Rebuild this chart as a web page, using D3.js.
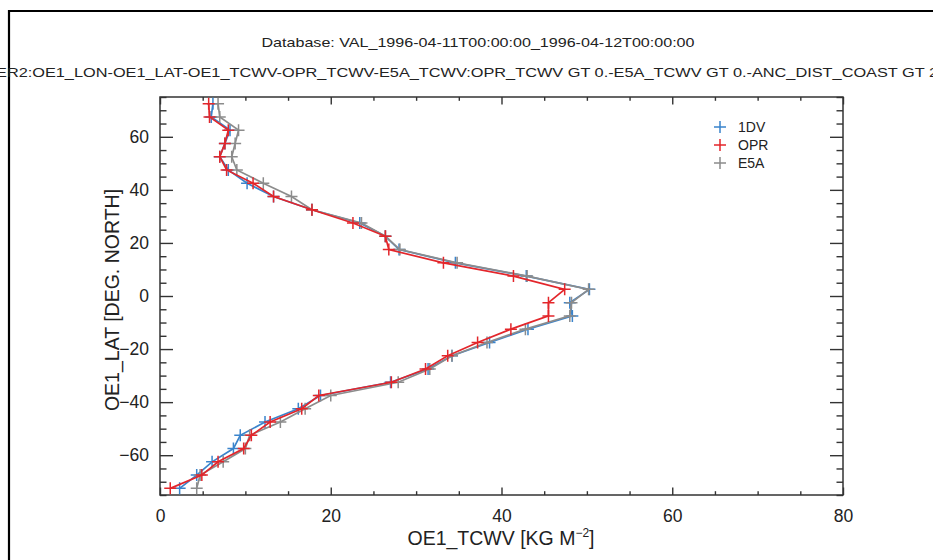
<!DOCTYPE html>
<html><head><meta charset="utf-8">
<script src="https://cdn.jsdelivr.net/npm/d3@7"></script>
<style>
body{margin:0;background:#fff;}
svg{display:block;font-family:"Liberation Sans",Arial,Helvetica,sans-serif;}
</style></head>
<body>
<svg id="c" width="933" height="560"></svg>
<script>
const title1 = "Database: VAL_1996-04-11T00:00:00_1996-04-12T00:00:00";
const title2 = "ER2:OE1_LON-OE1_LAT-OE1_TCWV-OPR_TCWV-E5A_TCWV:OPR_TCWV GT 0.-E5A_TCWV GT 0.-ANC_DIST_COAST GT 2";
const seriesNames = ["1DV", "OPR", "E5A"];
const lat = [72.5, 67.5, 62.5, 57.5, 52.5, 47.5, 42.5, 37.5, 32.5, 27.5, 22.5, 17.5, 12.5, 7.5, 2.5,
             -2.5, -7.5, -12.5, -17.5, -22.5, -27.5, -32.5, -37.5, -42.5, -47.5, -52.5, -57.5, -62.5, -67.5, -72.5];
const tcwv1DV = [6.2, 6.0, 8.2, 7.6, 7.0, 8.0, 10.2, 13.3, 17.8, 23.4, 26.4, 28.0, 34.6, 42.9, 50.3,
                 48.0, 48.3, 43.1, 38.6, 34.2, 31.4, 27.0, 18.8, 16.2, 12.3, 9.4, 8.6, 6.1, 4.3, 2.3];
const tcwvOPR = [5.7, 5.8, 8.0, 7.6, 7.0, 7.8, 10.9, 13.3, 17.8, 22.6, 26.4, 26.8, 33.2, 41.4, 47.4,
                 45.5, 45.5, 41.1, 37.2, 33.7, 31.1, 27.1, 18.6, 16.6, 12.9, 10.7, 9.8, 6.8, 4.9, 1.2];
const tcwvE5A = [6.8, 7.0, 9.2, 8.8, 8.4, 9.0, 12.1, 15.4, 17.8, 23.6, 26.4, 28.1, 34.8, 43.0, 50.2,
                 48.2, 48.0, 42.8, 38.3, 34.2, 31.6, 27.9, 20.0, 17.0, 14.1, 10.5, 10.0, 7.4, 4.7, 4.3];
const xTicks = [0, 20, 40, 60, 80];
const yTicks = [-60, -40, -20, 0, 20, 40, 60];
const xMinor = [5,10,15,25,30,35,45,50,55,65,70,75];
const yMinor = [-75,-70,-65,-55,-50,-45,-35,-30,-25,-15,-10,-5,5,10,15,25,30,35,45,50,55,65,70,75];
const xLabel = "OE1_TCWV [KG M";
const yLabel = "OE1_LAT [DEG. NORTH]";

const colors = {"1DV":"#3a84cc", "OPR":"#e3262b", "E5A":"#8c8c8c"};
const values = {"1DV":tcwv1DV, "OPR":tcwvOPR, "E5A":tcwvE5A};

const svg = d3.select("#c");
const L=160, R=843, T=97, B=495;
const x = d3.scaleLinear().domain([0,80]).range([L,R]);
const y = d3.scaleLinear().domain([-75,75]).range([B,T]);

// outer frame
svg.append("path").attr("d","M9,560 V11 H933").attr("fill","none").attr("stroke","#000").attr("stroke-width",2.2);

// titles
svg.append("text").attr("x",478).attr("y",47).attr("text-anchor","middle")
  .attr("font-size",13.5).attr("fill","#222").attr("textLength",433).attr("lengthAdjust","spacingAndGlyphs").text(title1);
svg.append("text").attr("x",-4).attr("y",77)
  .attr("font-size",13.5).attr("fill","#222").attr("textLength",942).attr("lengthAdjust","spacingAndGlyphs").text(title2);

const axisCol = "#333";
function styleAxis(g){
  g.select(".domain").remove();
  g.selectAll(".tick line").attr("stroke",axisCol).attr("stroke-width",1.4);
  g.selectAll(".tick text").attr("fill","#222").attr("font-size",17.5).attr("font-family","Liberation Sans, Arial, sans-serif");
}
// bottom
svg.append("g").attr("transform",`translate(0,${B})`)
  .call(d3.axisBottom(x).tickValues(xTicks).tickSize(-7.5).tickPadding(15).tickFormat(d3.format("d"))).call(styleAxis);
svg.append("g").attr("transform",`translate(0,${B})`)
  .call(d3.axisBottom(x).tickValues(xMinor).tickSize(-3.8).tickFormat("")).call(styleAxis);
// top
svg.append("g").attr("transform",`translate(0,${T})`)
  .call(d3.axisTop(x).tickValues(xTicks).tickSize(-7.5).tickFormat("")).call(styleAxis);
svg.append("g").attr("transform",`translate(0,${T})`)
  .call(d3.axisTop(x).tickValues(xMinor).tickSize(-3.8).tickFormat("")).call(styleAxis);
// left
svg.append("g").attr("transform",`translate(${L},0)`)
  .call(d3.axisLeft(y).tickValues(yTicks).tickSize(-13).tickPadding(11).tickFormat(d3.format("d"))).call(styleAxis);
svg.append("g").attr("transform",`translate(${L},0)`)
  .call(d3.axisLeft(y).tickValues(yMinor).tickSize(-6.5).tickFormat("")).call(styleAxis);
// right
svg.append("g").attr("transform",`translate(${R},0)`)
  .call(d3.axisRight(y).tickValues(yTicks).tickSize(-13).tickFormat("")).call(styleAxis);
svg.append("g").attr("transform",`translate(${R},0)`)
  .call(d3.axisRight(y).tickValues(yMinor).tickSize(-6.5).tickFormat("")).call(styleAxis);

svg.selectAll(".tick text").each(function(){ const t=d3.select(this); t.text(t.text().replace("-","\u2212")); });

// plot frame
svg.append("rect").attr("x",L).attr("y",T).attr("width",R-L).attr("height",B-T)
  .attr("fill","none").attr("stroke",axisCol).attr("stroke-width",1.5);

// axis titles
const xt = svg.append("text").attr("x",501).attr("y",545).attr("text-anchor","middle")
  .attr("font-size",19.5).attr("fill","#222");
xt.append("tspan").text(xLabel);
xt.append("tspan").attr("font-size",12).attr("dy",-8).text("\u22122");
xt.append("tspan").attr("dy",8).text("]");
svg.append("text").attr("transform","translate(119,300) rotate(-90)").attr("text-anchor","middle")
  .attr("font-size",19.5).attr("fill","#222").text(yLabel);

// series
const line = d3.line().x(d=>x(d[0])).y(d=>y(d[1]));
const order = ["1DV","E5A","OPR"];
const ps = 6;
order.forEach(name=>{
  const pts = values[name].map((v,i)=>[v,lat[i]]);
  const g = svg.append("g");
  g.append("path").attr("d",line(pts)).attr("fill","none").attr("stroke",colors[name]).attr("stroke-width",1.7);
  g.selectAll("path.m").data(pts).join("path").attr("class","m")
    .attr("d",d=>`M${x(d[0])-ps},${y(d[1])}H${x(d[0])+ps}M${x(d[0])},${y(d[1])-ps}V${y(d[1])+ps}`)
    .attr("stroke",colors[name]).attr("stroke-width",1.5).attr("fill","none");
});

// legend
seriesNames.forEach((name,i)=>{
  const ly = 127 + i*18, lx = 720;
  svg.append("path").attr("d",`M${lx-6},${ly}H${lx+6}M${lx},${ly-6}V${ly+6}`)
    .attr("stroke",colors[name]).attr("stroke-width",1.5);
  svg.append("text").attr("x",738).attr("y",ly+5).attr("font-size",14).attr("fill","#222").text(name);
});
</script>
</body></html>
